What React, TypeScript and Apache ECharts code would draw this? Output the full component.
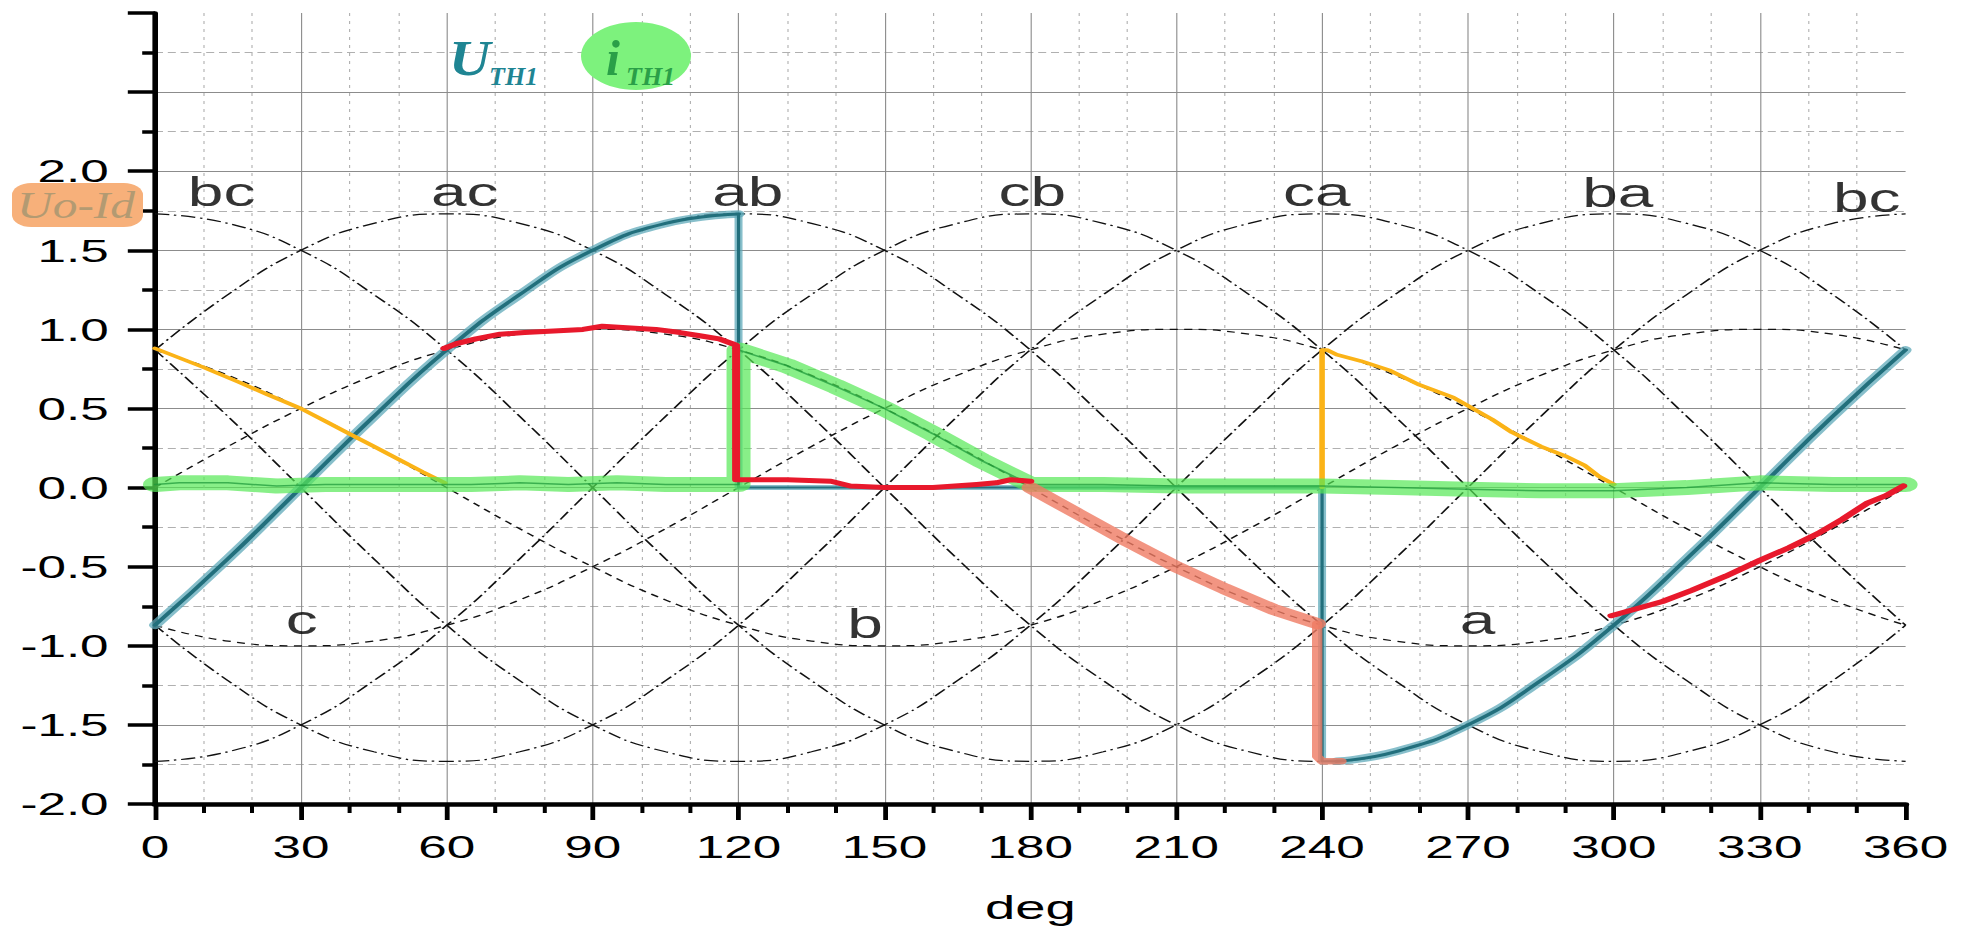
import React, { useEffect, useRef } from "react";
import * as echarts from "echarts";

// horizontal stretch of the whole original plot (its glyphs are wide)
const S = 1.6;
const W = 1962;
const H = 938;

// ---------- data ----------
const deg15 = [0, 15, 30, 45, 60, 75, 90, 105, 120, 135, 150, 165, 180, 195, 210, 225, 240, 255, 270, 285, 300, 315, 330, 345, 360];
// line-to-line voltages
const uBC = [1.73, 1.67, 1.5, 1.22, 0.87, 0.45, 0, -0.45, -0.87, -1.22, -1.5, -1.67, -1.73, -1.67, -1.5, -1.22, -0.87, -0.45, 0, 0.45, 0.87, 1.22, 1.5, 1.67, 1.73];
const uAC = [0.87, 1.22, 1.5, 1.67, 1.73, 1.67, 1.5, 1.22, 0.87, 0.45, 0, -0.45, -0.87, -1.22, -1.5, -1.67, -1.73, -1.67, -1.5, -1.22, -0.87, -0.45, 0, 0.45, 0.87];
const uAB = [-0.87, -0.45, 0, 0.45, 0.87, 1.22, 1.5, 1.67, 1.73, 1.67, 1.5, 1.22, 0.87, 0.45, 0, -0.45, -0.87, -1.22, -1.5, -1.67, -1.73, -1.67, -1.5, -1.22, -0.87];
const uCB = [-1.73, -1.67, -1.5, -1.22, -0.87, -0.45, 0, 0.45, 0.87, 1.22, 1.5, 1.67, 1.73, 1.67, 1.5, 1.22, 0.87, 0.45, 0, -0.45, -0.87, -1.22, -1.5, -1.67, -1.73];
const uCA = [-0.87, -1.22, -1.5, -1.67, -1.73, -1.67, -1.5, -1.22, -0.87, -0.45, 0, 0.45, 0.87, 1.22, 1.5, 1.67, 1.73, 1.67, 1.5, 1.22, 0.87, 0.45, 0, -0.45, -0.87];
const uBA = [0.87, 0.45, 0, -0.45, -0.87, -1.22, -1.5, -1.67, -1.73, -1.67, -1.5, -1.22, -0.87, -0.45, 0, 0.45, 0.87, 1.22, 1.5, 1.67, 1.73, 1.67, 1.5, 1.22, 0.87];
// phase voltages
const uA = [0, 0.26, 0.5, 0.71, 0.87, 0.97, 1, 0.97, 0.87, 0.71, 0.5, 0.26, 0, -0.26, -0.5, -0.71, -0.87, -0.97, -1, -0.97, -0.87, -0.71, -0.5, -0.26, 0];
const uB = [0.87, 0.71, 0.5, 0.26, 0, -0.26, -0.5, -0.71, -0.87, -0.97, -1, -0.97, -0.87, -0.71, -0.5, -0.26, 0, 0.26, 0.5, 0.71, 0.87, 0.97, 1, 0.97, 0.87];
const uC = [-0.87, -0.97, -1, -0.97, -0.87, -0.71, -0.5, -0.26, 0, 0.26, 0.5, 0.71, 0.87, 0.97, 1, 0.97, 0.87, 0.71, 0.5, 0.26, 0, -0.26, -0.5, -0.71, -0.87];

// U_TH1 (teal)
const uth1X1 = [0, 15, 30, 45, 60, 75, 90, 105, 120];
const uth1Y1 = [-0.87, -0.45, 0, 0.45, 0.87, 1.22, 1.5, 1.67, 1.73];
const uth1X2 = [120, 120, 180, 240, 240, 243];
const uth1Y2 = [1.73, 0.0, 0.0, 0.0, -1.73, -1.73];
const uth1X3 = [243, 255, 270, 285, 300, 315, 330, 345, 360];
const uth1Y3 = [-1.73, -1.67, -1.5, -1.22, -0.87, -0.45, 0, 0.45, 0.87];

// i_TH1 (green highlighter)
const ith1X = [0, 5, 15, 25, 35, 45, 55, 65, 75, 85, 95, 105, 115, 120, 120, 130, 140, 150, 160, 170, 180, 195, 210, 225, 240, 255, 270, 285, 300, 315, 330, 345, 360];
const ith1Y = [0.02, 0.03, 0.03, 0.01, 0.02, 0.02, 0.02, 0.02, 0.03, 0.02, 0.03, 0.02, 0.02, 0.02, 0.87, 0.77, 0.64, 0.5, 0.34, 0.17, 0.02, 0.02, 0.01, 0.01, 0.01, 0.0, -0.01, -0.02, -0.02, 0.0, 0.03, 0.02, 0.02];

// Uo (red)
const uoX1 = [59.5, 62, 66, 71, 76, 82, 88, 92, 97, 103, 108, 112, 116, 119.5, 119.5, 121, 130, 139, 143, 150, 160, 169, 173, 176, 180];
const uoY1 = [0.88, 0.91, 0.94, 0.97, 0.98, 0.99, 1.0, 1.02, 1.01, 1.0, 0.98, 0.96, 0.94, 0.9, 0.05, 0.05, 0.05, 0.04, 0.01, 0.0, 0.0, 0.02, 0.03, 0.05, 0.04];
const uoX2 = [299.5, 303, 310, 316, 323, 330, 336, 342, 347, 352, 356, 359.5];
const uoY2 = [-0.81, -0.78, -0.72, -0.65, -0.56, -0.46, -0.38, -0.29, -0.2, -0.1, -0.05, 0.01];
// Uo (salmon highlighter): slope part and drop part
const uoX3 = [180, 190, 200, 210, 220, 230, 239];
const uoY3 = [0.0, -0.17, -0.34, -0.5, -0.64, -0.77, -0.86];
const uoX4 = [239, 239, 240, 244];
const uoY4 = [-0.86, -1.7, -1.73, -1.73];

// Id (yellow)
const idX1 = [0, 5, 10, 17, 23, 30, 35, 40, 45, 50, 55, 59.6];
const idY1 = [0.88, 0.82, 0.76, 0.67, 0.59, 0.5, 0.42, 0.34, 0.26, 0.18, 0.1, 0.03];
const idX2 = [240, 240, 241, 243, 248, 254, 260, 267, 271, 275, 279, 285, 290, 294, 297, 300];
const idY2 = [0.0, 0.87, 0.87, 0.84, 0.8, 0.74, 0.65, 0.57, 0.5, 0.43, 0.35, 0.26, 0.2, 0.14, 0.07, 0.02];

// curve labels
const curveNames = ["bc", "ac", "ab", "cb", "ca", "ba", "bc", "c", "b", "a"];
const curveLabelX = [13.7, 63.7, 121.9, 180.4, 238.9, 300.8, 352, 30.2, 146, 272];
const curveLabelY = [1.87, 1.87, 1.87, 1.87, 1.87, 1.86, 1.83, -0.84, -0.86, -0.84];

// axes
const xMin = 0, xMax = 360, xStep = 30;
const yMin = -2, yMax = 3, yStep = 0.5, yLabelMax = 2;

const pts = (xs: number[], ys: number[]) => xs.map((x, i) => [x, ys[i]]);

const FONT = "Liberation Sans, Arial, sans-serif";
const SERIF = '"Liberation Serif", "Times New Roman", serif';

function buildOption() {
  const lineLine = { color: "#111", width: 1.25, type: [9, 3, 1.5, 3] };
  const phase = { color: "#111", width: 1.25, type: [5, 4] };
  const thin = (name: string, ys: number[], style: any) => ({
    type: "line", name, data: pts(deg15, ys), smooth: true, symbol: "none", silent: true,
    lineStyle: style,
  });
  const trace = (name: string, xs: number[], ys: number[], color: string, width: number, smooth = false, opacity = 1) => ({
    type: "line", name, data: pts(xs, ys), smooth, symbol: "none", silent: true,
    lineStyle: { color, width, opacity, cap: "round", join: "round" },
  });

  const series: any[] = [
    thin("bc", uBC, lineLine),
    thin("ac", uAC, lineLine),
    thin("ab", uAB, lineLine),
    thin("cb", uCB, lineLine),
    thin("ca", uCA, lineLine),
    thin("ba", uBA, lineLine),
    thin("a", uA, phase),
    thin("b", uB, phase),
    thin("c", uC, phase),
    trace("UTH1 glow 1", uth1X1, uth1Y1, "rgba(95,170,185,0.75)", 7.5, true),
    trace("UTH1 glow 2", uth1X2, uth1Y2, "rgba(95,170,185,0.75)", 5),
    trace("UTH1 glow 3", uth1X3, uth1Y3, "rgba(95,170,185,0.75)", 7.5, true),
    trace("UTH1 1", uth1X1, uth1Y1, "#226f7c", 3, true),
    trace("UTH1 2", uth1X2, uth1Y2, "#226f7c", 2),
    trace("UTH1 3", uth1X3, uth1Y3, "#226f7c", 3, true),
    trace("Id 1", idX1, idY1, "#fbb317", 3.5),
    trace("Id 2", idX2, idY2, "#fbb317", 3.5),
    trace("iTH1 band", ith1X, ith1Y, "#55e855", 15, false, 0.7),
    trace("iTH1", ith1X, ith1Y, "rgba(25,150,55,0.7)", 1.5),
    trace("Uo band", uoX3, uoY3, "#ef7a63", 11, false, 0.8),
    trace("Uo band drop", uoX4, uoY4, "#ef7a63", 6.5, false, 0.8),
    trace("Uo 1", uoX1, uoY1, "#e8192c", 5),
    trace("Uo 2", uoX2, uoY2, "#e8192c", 5),
    {
      type: "scatter", name: "labels", silent: true, symbolSize: 1,
      itemStyle: { color: "transparent" },
      data: curveNames.map((n, i) => ({ name: n, value: [curveLabelX[i], curveLabelY[i]] })),
      label: {
        show: true, position: "inside", formatter: (p: any) => p.name,
        fontSize: 40, fontFamily: FONT, color: "#000",
      },
      z: 5,
    },
  ];

  const txt = (text: string, X: number, Y: number, size: number, color: string, sx: number, style = "italic bold") => ({
    type: "text", x: X / S, y: Y, scaleX: sx / S, z: 20, silent: true,
    style: {
      text, x: 0, y: 0, fill: color,
      font: `${style} ${size}px ${SERIF}`,
      align: "left", verticalAlign: "middle", textAlign: "left", textVerticalAlign: "middle",
    },
  });

  const graphic: any[] = [
    { type: "rect", x: 12 / S, y: 183, z: 15, silent: true, shape: { x: 0, y: 0, width: 131 / S, height: 44, r: 12 }, style: { fill: "#f7b07a" } },
    { type: "ellipse", x: 636 / S, y: 56, z: 15, silent: true, shape: { cx: 0, cy: 0, rx: 55 / S, ry: 34 }, style: { fill: "#7df27d" } },
    txt("Uo-Id", 17, 206, 38, "#b39a72", 1.3, "italic"),
    txt("U", 449, 58, 50, "#1f8593", 1.15),
    txt("TH1", 489, 76, 26, "#1f8593", 1.0),
    txt("i", 606, 58, 50, "#2a9f48", 1.0),
    txt("TH1", 626, 76, 26, "#2a9f48", 1.0),
  ];

  return {
    animation: false,
    backgroundColor: "#ffffff",
    grid: {
      left: 155 / S, right: 56 / S, top: 13, bottom: 134,
      containLabel: false, outerBoundsMode: "none",
    },
    xAxis: {
      type: "value", min: xMin, max: xMax, interval: xStep,
      name: "deg", nameLocation: "middle", nameGap: 86,
      nameTextStyle: { fontSize: 34, fontFamily: FONT, color: "#000" },
      axisLine: { show: true, onZero: false, lineStyle: { color: "#000", width: 4.5 } },
      axisTick: { show: true, inside: false, length: 16, lineStyle: { color: "#000", width: 3 } },
      minorTick: { show: true, splitNumber: 3, length: 9, lineStyle: { color: "#000", width: 2.5 } },
      axisLabel: { fontSize: 32, fontFamily: FONT, color: "#000", margin: 27 },
      splitLine: { show: true, showMinLine: false, showMaxLine: false, lineStyle: { color: "#8c8c8c", width: 0.7 } },
      minorSplitLine: { show: true, lineStyle: { color: "#b0b0b0", width: 0.7, type: [3, 5] } },
    },
    yAxis: {
      type: "value", min: yMin, max: yMax, interval: yStep,
      axisLine: { show: true, onZero: false, lineStyle: { color: "#000", width: 3.5 } },
      axisTick: { show: true, inside: false, length: 17, lineStyle: { color: "#000", width: 3.5 } },
      minorTick: { show: true, splitNumber: 2, length: 8, lineStyle: { color: "#000", width: 3.5 } },
      axisLabel: {
        fontSize: 32, fontFamily: FONT, color: "#000", margin: 29,
        padding: [0, 0, 8, 0],
        formatter: (v: number) => (v > yLabelMax + 1e-6 ? "" : v.toFixed(1)),
      },
      splitLine: { show: true, showMinLine: false, showMaxLine: false, lineStyle: { color: "#8c8c8c", width: 1.1 } },
      minorSplitLine: { show: true, lineStyle: { color: "#b0b0b0", width: 1, type: [5, 3] } },
    },
    series,
    graphic,
  };
}

export default function App() {
  const ref = useRef<HTMLDivElement>(null);
  useEffect(() => {
    if (!ref.current) return;
    const chart = echarts.init(ref.current, undefined, { renderer: "svg" });
    chart.setOption(buildOption() as any);
    return () => chart.dispose();
  }, []);
  return (
    <div style={{ position: "fixed", left: 0, top: 0, width: W, height: H, overflow: "hidden", background: "#fff" }}>
      <div
        ref={ref}
        style={{ width: W / S, height: H, transform: `scaleX(${S})`, transformOrigin: "0 0" }}
      />
    </div>
  );
}
